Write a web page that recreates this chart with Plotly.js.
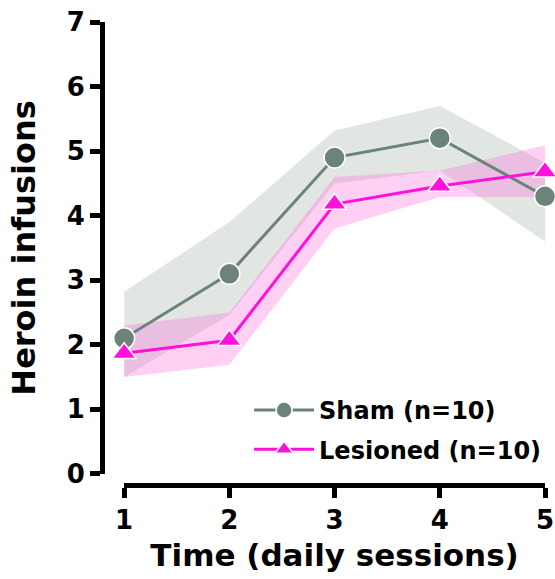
<!DOCTYPE html>
<html>
<head>
<meta charset="utf-8">
<script src="https://cdn.plot.ly/plotly-3.0.1.min.js"></script>
<style>html,body{margin:0;padding:0;background:#fff;} #chart{width:555px;height:579px;}</style>
</head>
<body>
<div id="chart"></div>
<script>
var sessions = [1, 2, 3, 4, 5];
var shamMean  = [2.1, 3.1, 4.9, 5.2, 4.3];
var shamUpper = [2.82, 3.9, 5.32, 5.7, 4.82];
var shamLower = [1.5, 2.46, 4.5, 4.7, 3.6];
var lesMean   = [1.87, 2.07, 4.18, 4.46, 4.68];
var lesUpper  = [2.3, 2.5, 4.6, 4.7, 5.09];
var lesLower  = [1.5, 1.69, 3.8, 4.29, 4.29];
var xTickLabels = ['1', '2', '3', '4', '5'];
var yTickVals = [0, 1, 2, 3, 4, 5, 6, 7];

function band(upper, lower) {
  return {
    x: sessions.concat(sessions.slice().reverse()),
    y: upper.concat(lower.slice().reverse())
  };
}
var shamBand = band(shamUpper, shamLower);
var lesBand = band(lesUpper, lesLower);

var FONT = 'DejaVu Sans, Arial, sans-serif';

var traces = [
  {x: shamBand.x, y: shamBand.y, type: 'scatter', mode: 'lines', fill: 'toself',
   fillcolor: 'rgba(180,192,185,0.4)', line: {width: 0}, showlegend: false, hoverinfo: 'skip'},
  {x: lesBand.x, y: lesBand.y, type: 'scatter', mode: 'lines', fill: 'toself',
   fillcolor: 'rgba(255,100,220,0.3)', line: {width: 0}, showlegend: false, hoverinfo: 'skip'},
  {x: sessions, y: shamMean, type: 'scatter', mode: 'lines+markers', name: 'Sham (n=10)',
   legendgroup: 'sham',
   line: {color: '#6b8379', width: 3},
   marker: {symbol: 'circle', size: 21, color: '#6b8379', line: {color: '#ffffff', width: 1.5}},
   cliponaxis: false},
  {x: sessions, y: lesMean, type: 'scatter', mode: 'lines+markers', name: 'Lesioned (n=10)',
   legendgroup: 'les',
   line: {color: '#ff10dc', width: 3},
   marker: {symbol: 'triangle-up', size: 21, color: '#ff10dc', line: {color: '#ffffff', width: 1.5}},
   cliponaxis: false}
];

var layout = {
  width: 555, height: 579,
  margin: {l: 102, r: 10, t: 22, b: 94, autoexpand: false},
  paper_bgcolor: '#ffffff', plot_bgcolor: '#ffffff',
  font: {family: FONT, color: '#000000'},
  showlegend: true,
  legend: {
    x: 0.332, y: 0.119, xanchor: 'left', yanchor: 'middle',
    font: {family: FONT, size: 24, weight: 'bold', color: '#000'},
    bgcolor: 'rgba(0,0,0,0)', itemwidth: 60,
    traceorder: 'grouped', tracegroupgap: 5
  },
  xaxis: {
    range: [1, 5], domain: [0.05, 1], anchor: 'free', position: 0,
    tickvals: sessions, ticktext: xTickLabels,
    showgrid: false, zeroline: false,
    showline: true, linewidth: 5, linecolor: '#000',
    ticks: 'outside', ticklen: 10, tickwidth: 5, tickcolor: '#000',
    tickfont: {family: FONT, size: 26, weight: 'bold'},
    title: {text: 'Time (daily sessions)', font: {family: FONT, size: 31, weight: 'bold'}, standoff: 10},
    fixedrange: true
  },
  yaxis: {
    range: [0, 7], domain: [0.024, 1], anchor: 'free', position: 0,
    tickvals: yTickVals,
    showgrid: false, zeroline: false,
    showline: true, linewidth: 5, linecolor: '#000',
    ticks: 'outside', ticklen: 10, tickwidth: 5, tickcolor: '#000',
    tickfont: {family: FONT, size: 26, weight: 'bold'},
    title: {text: 'Heroin infusions', font: {family: FONT, size: 32, weight: 'bold'}, standoff: 20},
    fixedrange: true
  }
};

Plotly.newPlot('chart', traces, layout, {staticPlot: true, displayModeBar: false});
</script>
</body>
</html>
